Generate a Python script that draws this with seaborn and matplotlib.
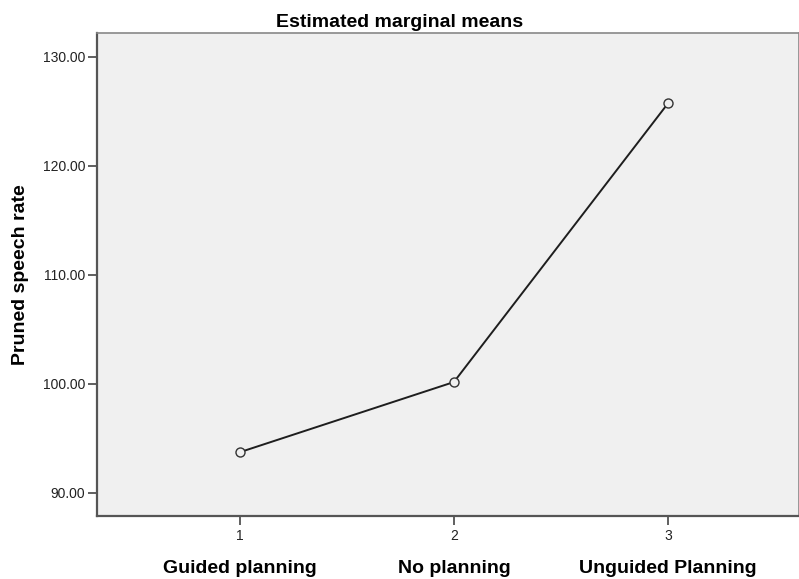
import pandas as pd
import matplotlib
matplotlib.use("Agg")
import matplotlib.pyplot as plt
import matplotlib.transforms as mtransforms
import seaborn as sns

# Estimated marginal means of pruned speech rate per planning condition
levels = [1, 2, 3]
conditions = ["Guided planning", "No planning", "Unguided Planning"]
means = [93.7, 100.15, 125.77]
yticks = [90, 100, 110, 120, 130]

df = pd.DataFrame({"level": levels, "mean": means})

sns.set_style("white")
plt.rcParams['font.family'] = ['Liberation Sans', 'DejaVu Sans']

fig = plt.figure(figsize=(7.99, 5.79), dpi=100)
ax = fig.add_axes([97 / 799, 63 / 579, 702 / 799, 483 / 579])
ax.set_facecolor("#f0f0f0")

sns.lineplot(data=df, x="level", y="mean", ax=ax, color="#1e1e1e", linewidth=1.4,
             marker="o", markersize=6.5, markerfacecolor="#f0f0f0",
             markeredgecolor="#333333", markeredgewidth=1.0)

ax.set_xlim(0.335, 3.61)
ax.set_ylim(87.85, 132.2)
ax.set_xticks(levels)
ax.set_xticklabels([str(v) for v in levels])
ax.set_yticks(yticks)
ax.set_yticklabels([f"{v:.2f}" for v in yticks])
ax.tick_params(axis="both", direction="out", length=6.5, width=1.2, color="#444444",
               labelsize=10, labelcolor="#222222", pad=2, bottom=True, left=True)
ax.tick_params(axis="x", pad=2.5)
ax.set_xlabel("")
ax.set_ylabel("")

for side in ["left", "bottom"]:
    ax.spines[side].set_color("#555555")
    ax.spines[side].set_linewidth(1.6)
for side in ["top", "right"]:
    ax.spines[side].set_color("#888888")
    ax.spines[side].set_linewidth(1.2)

# category names under the tick numbers
trans = mtransforms.blended_transform_factory(ax.transData, fig.transFigure)
for lv, name in zip(levels, conditions):
    ax.text(lv, 6 / 579, name, transform=trans, ha="center", va="baseline",
            fontsize=14, fontweight="bold", color="black")

fig.text(0.5, 1 - 27 / 579, "Estimated marginal means", ha="center", va="baseline",
         fontsize=14, fontweight="bold", color="black")
fig.text(21 / 799, 1 - 274.5 / 579, "Pruned speech rate", rotation=90, ha="center",
         va="center", fontsize=14, fontweight="bold", color="black")

fig.savefig("out.png", dpi=100)
